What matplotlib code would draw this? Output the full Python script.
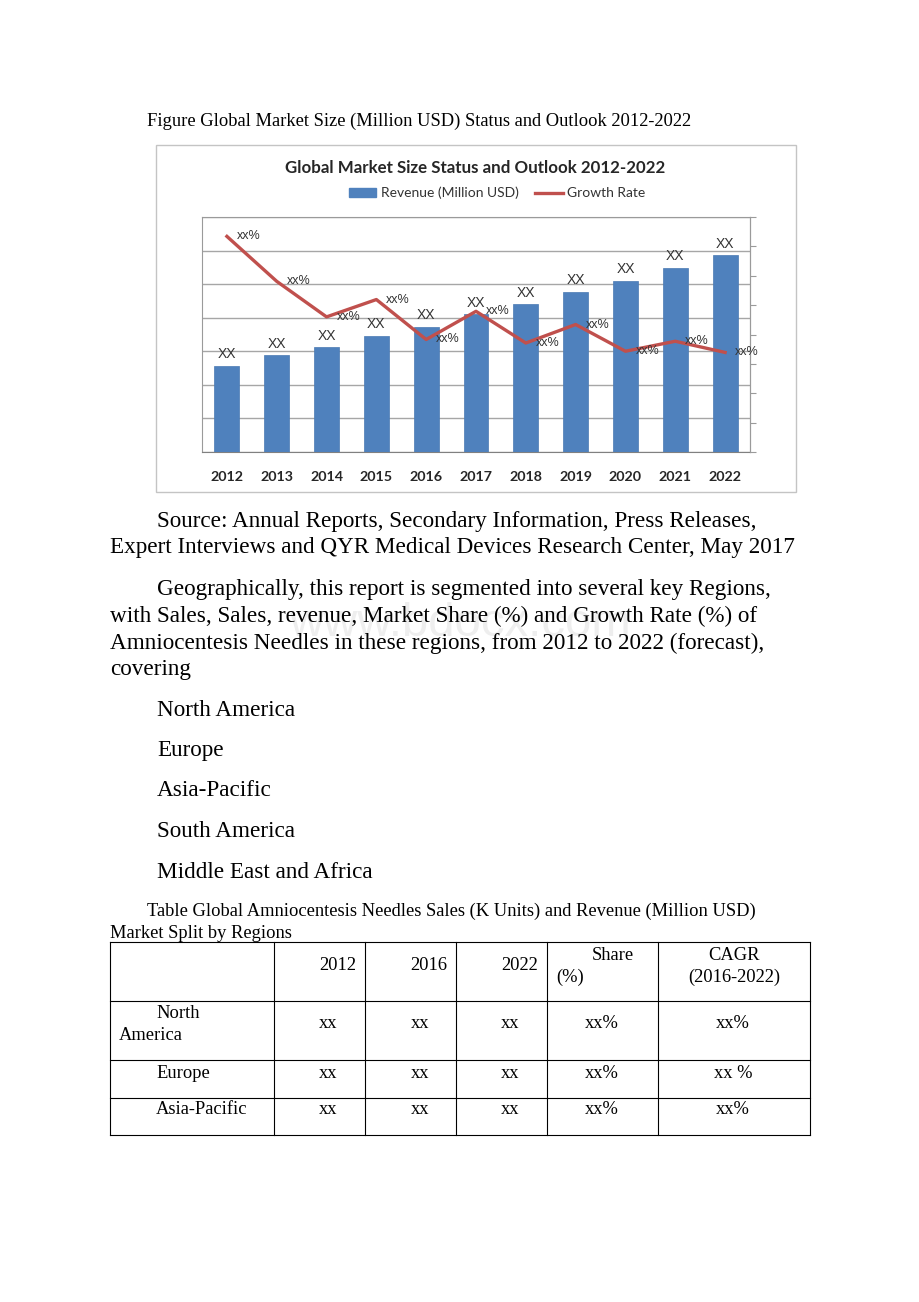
import numpy as np
import matplotlib
matplotlib.use('Agg')
import matplotlib.pyplot as plt
from matplotlib.patches import Rectangle, Patch
from matplotlib.lines import Line2D

# chart data
years = ['2012', '2013', '2014', '2015', '2016', '2017', '2018', '2019', '2020', '2021', '2022']
revenue = [25.7, 28.8, 31.3, 34.6, 37.3, 41.1, 44.0, 47.8, 51.0, 54.9, 58.7]
growth = [7.34, 5.81, 4.60, 5.19, 3.83, 4.79, 3.71, 4.34, 3.43, 3.77, 3.39]

# table data
tbl_cols = ['2012', '2016', '2022']
tbl_regions = ['Europe', 'Asia-Pacific']
regions = ['North America', 'Europe', 'Asia-Pacific', 'South America', 'Middle East and Africa']

W, H = 920, 1302
fig = plt.figure(figsize=(W / 100, H / 100), dpi=100)
fig.patch.set_facecolor('white')

# page axes in pixel coords
page = fig.add_axes([0, 0, 1, 1])
page.set_xlim(0, W)
page.set_ylim(H, 0)
page.axis('off')

serif = 'Liberation Serif'
sans = 'Lato'
body = 16.7
small = 13.3

def txt(x, y, s, size=body, ha='left', **kw):
    page.text(x, y, s, fontsize=size, family=serif, ha=ha, va='center', color='black', **kw)

# watermark
page.text(460, 624, 'www.bdocx.com', fontsize=34, family='Liberation Sans', color='#eeeeee',
          ha='center', va='center', zorder=0)

txt(147, 121, 'Figure Global Market Size (Million USD) Status and Outlook 2012-2022', size=small)

# chart frame
page.add_patch(Rectangle((156, 145), 640, 347, fill=False, edgecolor='#c4c4c4', lw=1))
page.text(475, 168, 'Global Market Size Status and Outlook 2012-2022', fontsize=12.2,
          family=sans, weight='bold', ha='center', va='center', color='#262626')

# body text
txt(157, 521, 'Source: Annual Reports, Secondary Information, Press Releases,')
txt(110, 548, 'Expert Interviews and QYR Medical Devices Research Center, May 2017')
txt(157, 590, 'Geographically, this report is segmented into several key Regions,')
txt(110, 616, 'with Sales, Sales, revenue, Market Share (%) and Growth Rate (%) of')
txt(110, 643, 'Amniocentesis Needles in these regions, from 2012 to 2022 (forecast),')
txt(110, 669, 'covering')
for i, r in enumerate(regions):
    txt(157, 710 + i * 40.5, r)

txt(147, 911, 'Table Global Amniocentesis Needles Sales (K Units) and Revenue (Million USD)', size=small)
txt(110, 933, 'Market Split by Regions', size=small)

# table grid
xs = [110, 274, 365, 456, 547, 658, 810]
ys = [942, 1001, 1060, 1098, 1135]
for y in ys:
    page.plot([xs[0], xs[-1]], [y, y], color='black', lw=0.8)
for x in xs:
    page.plot([x, x], [ys[0], ys[-1]], color='black', lw=0.8)

ts = small
for i, c in enumerate(tbl_cols):
    txt(xs[i + 2] - 9, 966, c, size=ts, ha='right')
txt(613, 955, 'Share', size=ts, ha='center')
txt(570, 977, '(%)', size=ts, ha='center')
txt(734, 955, 'CAGR', size=ts, ha='center')
txt(734, 977, '(2016-2022)', size=ts, ha='center')

txt(156, 1013, 'North', size=ts)
txt(119, 1035, 'America', size=ts)
row_y = [1024, 1073, 1110]
for i, y in enumerate(row_y):
    if i > 0:
        txt(156, y, tbl_regions[i - 1], size=ts)
    for cx in [328, 420, 510]:
        txt(cx, y, 'xx', size=ts, ha='center')
    txt(602, y, 'xx%', size=ts, ha='center')
    txt(733, y, 'xx %' if i == 1 else 'xx%', size=ts, ha='center')

# chart axes
l, r, t, b = 202, 750, 217, 452
ax = fig.add_axes([l / W, 1 - b / H, (r - l) / W, (b - t) / H])
x = np.arange(len(years))
bars = ax.bar(x, revenue, width=0.5, color='#4f81bd', edgecolor='#4a7ab3', lw=0.5, zorder=3)
ax.set_xlim(-0.5, len(years) - 0.5)
ax.set_ylim(0, 70)
ax.set_yticks(np.arange(0, 71, 10))
ax.set_yticklabels([])
ax.tick_params(axis='y', length=0)
ax.grid(axis='y', color='#a6a6a6', lw=1, zorder=0)
ax.set_xticks(x)
ax.set_xticklabels(years, fontsize=10.3, family=sans, weight='bold', color='#262626')
ax.tick_params(axis='x', length=0, pad=14)
for s in ax.spines.values():
    s.set_color('#9a9a9a')
ax.spines['bottom'].set_color('#808080')
for xi, v in zip(x, revenue):
    ax.text(xi, v + 1.3, 'XX', ha='center', va='bottom', fontsize=10,
            family='Liberation Sans', color='#333333', zorder=5)

ax2 = ax.twinx()
ax2.set_ylim(0, 8)
ax2.set_yticks(np.arange(0, 9, 1))
ax2.set_yticklabels([])
ax2.tick_params(axis='y', length=4, color='#9a9a9a', direction='out')
for s in ax2.spines.values():
    s.set_visible(False)
ax2.spines['right'].set_visible(True)
ax2.spines['right'].set_color('#9a9a9a')
ax2.plot(x, growth, color='#c0504d', lw=2.4, zorder=4)
for xi, v in zip(x, growth):
    ax2.text(xi + 0.2, v, 'xx%', ha='left', va='center', fontsize=9,
             family='Liberation Sans', color='#333333', zorder=5)

handles = [Patch(facecolor='#4f81bd', edgecolor='#4f81bd'),
           Line2D([0], [0], color='#c0504d', lw=2.4)]
fig.legend(handles, ['Revenue (Million USD)', 'Growth Rate'], loc='center',
           bbox_to_anchor=(497 / W, 1 - 193 / H), ncol=2, frameon=False,
           prop={'family': sans, 'size': 10}, handlelength=2.0, handleheight=0.6,
           columnspacing=1.2, handletextpad=0.3, labelcolor='#333333')

fig.savefig('out.png', dpi=100)
